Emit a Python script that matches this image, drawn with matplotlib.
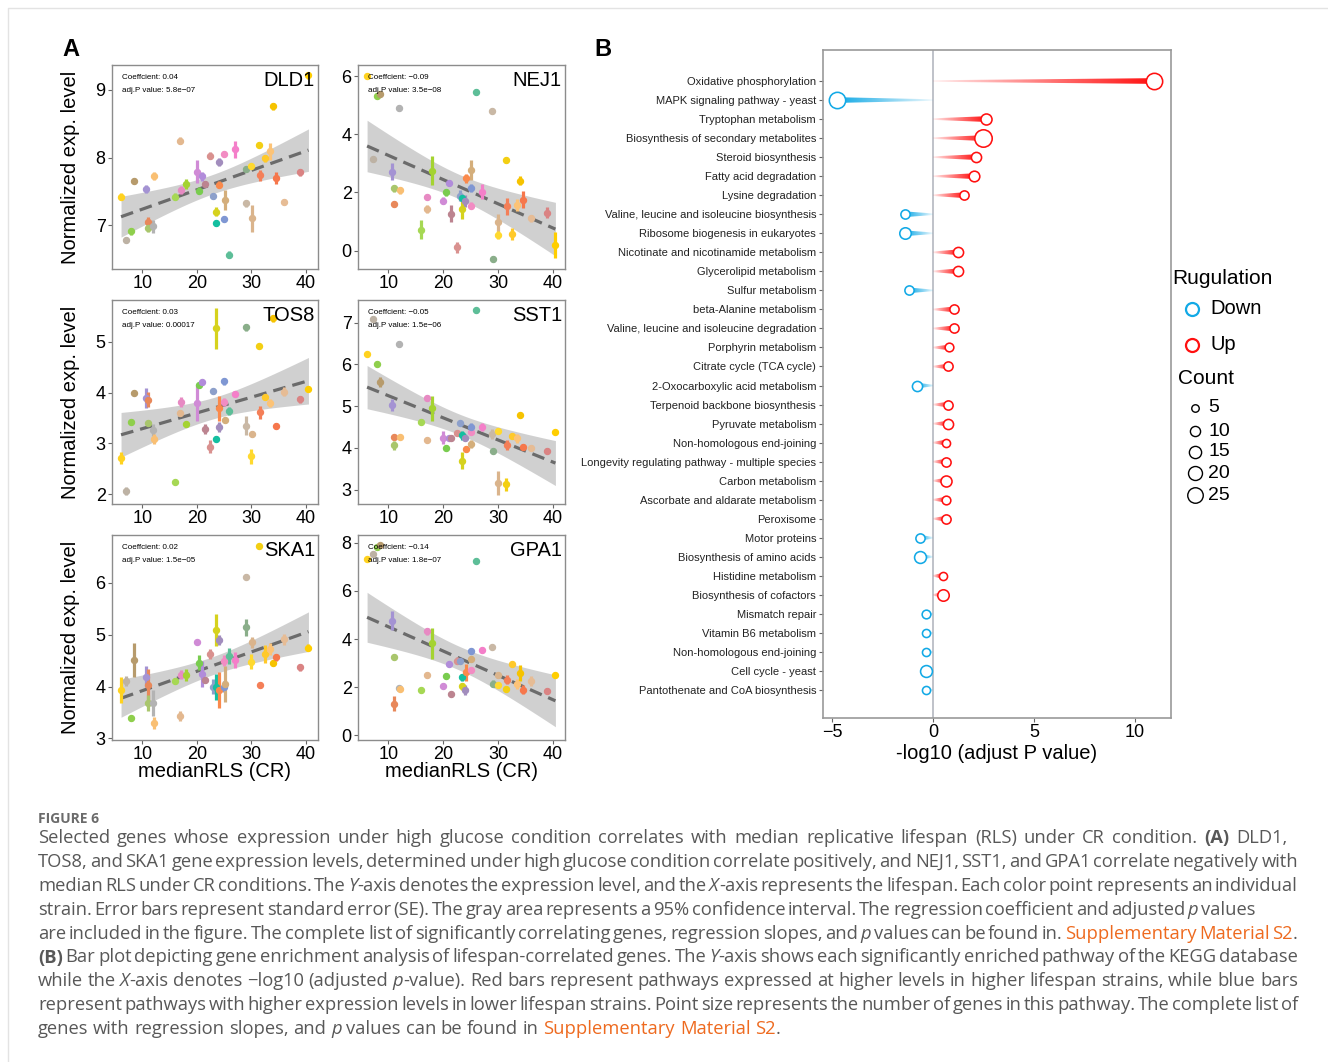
import numpy as np
import matplotlib
matplotlib.use('Agg')
import matplotlib.pyplot as plt
from matplotlib.patches import Polygon
from matplotlib.font_manager import FontProperties
from matplotlib import font_manager as fm

# ---------------- DATA ----------------
strain_x = [6.1, 7.1, 8.0, 8.5, 10.6, 11.0, 11.1, 12.0, 12.1, 16.0, 17.0, 17.1, 18.0, 20.0,
            20.5, 21.0, 21.5, 22.5, 23.0, 23.5, 23.5, 24.0, 24.1, 25.0, 25.0, 25.1, 26.0, 27.0,
            29.0, 29.1, 30.0, 30.1, 31.5, 31.6, 32.5, 33.5, 34.0, 34.5, 36.0, 39.0, 40.5]
strain_colors = ["#FFD21F", "#BDB2A4", "#8FCF4C", "#B79B6C", "#A493D3", "#E8885A", "#A9C66C",
                 "#B3B3B3", "#F9BF73", "#A6D854", "#E3B88F", "#E78AC3", "#A4D331", "#D08BD6",
                 "#79CC4F", "#B18CDA", "#BC8490", "#D9918F", "#8DA0CB", "#D6D21E", "#14BFA0",
                 "#A28DBD", "#FA8A4C", "#F28CC3", "#7F97D3", "#D4AE7B", "#5DBE98", "#F47FC9",
                 "#C9B8A5", "#8AAE8A", "#FFD92F", "#DAB48C", "#F3CF13", "#F47F58", "#FFC92A",
                 "#FCC377", "#F6C300", "#F6774C", "#E6BC95", "#DA8383", "#FFCE00"]

DLD1 = [7.42, 6.78, 6.91, 7.65, 7.53, 7.05, 6.95, 6.98, 7.73, 7.42, 8.25, 7.52, 7.61, 7.79, 7.51,
        7.72, 7.61, 8.03, 7.43, 7.20, 7.03, 7.94, 7.60, 8.05, 7.09, 7.37, 6.56, 8.12, 7.32, 7.83,
        7.87, 7.10, 8.19, 7.74, 7.99, 8.09, 8.76, 7.70, 7.34, 7.78, 9.22]
DLD1_err = [0.05, 0.05, 0.05, 0.04, 0.06, 0.07, 0.05, 0.10, 0.06, 0.05, 0.05, 0.06, 0.07, 0.17,
            0.05, 0.06, 0.04, 0.05, 0.05, 0.07, 0.05, 0.06, 0.05, 0.04, 0.05, 0.15, 0.05, 0.13,
            0.05, 0.04, 0.04, 0.20, 0.04, 0.08, 0.05, 0.12, 0.05, 0.09, 0.04, 0.05, 0.05]
NEJ1 = [6.0, 3.15, 5.33, 5.40, 2.72, 1.61, 2.15, 4.90, 2.07, 0.72, 1.43, 1.86, 2.74, 1.71, 2.01,
        2.34, 1.27, 0.11, 1.89, 1.43, 1.80, 1.70, 2.49, 1.54, 2.15, 2.78, 5.44, 2.03, 4.81, -0.29,
        0.55, 0.97, 3.12, 1.52, 0.57, 1.58, 2.41, 1.75, 1.12, 1.31, 0.20]
NEJ1_err = [0.1, 0.1, 0.1, 0.1, 0.3, 0.1, 0.12, 0.1, 0.12, 0.33, 0.15, 0.1, 0.5, 0.12, 0.12, 0.1,
            0.3, 0.2, 0.2, 0.35, 0.1, 0.2, 0.15, 0.12, 0.15, 0.35, 0.1, 0.25, 0.1, 0.1, 0.15, 0.3,
            0.1, 0.3, 0.22, 0.2, 0.15, 0.3, 0.12, 0.2, 0.45]
TOS8 = [2.71, 2.07, 3.43, 4.00, 3.89, 3.86, 3.41, 3.27, 3.08, 2.25, 3.59, 3.82, 3.38, 3.79, 4.15,
        4.20, 3.28, 2.94, 4.03, 5.26, 3.09, 3.33, 3.69, 3.82, 4.22, 3.46, 3.63, 3.97, 3.35, 5.28,
        2.75, 3.19, 4.92, 3.61, 3.92, 3.80, 5.46, 3.35, 4.02, 3.87, 4.08]
TOS8_err = [0.12, 0.08, 0.06, 0.05, 0.2, 0.15, 0.05, 0.12, 0.1, 0.04, 0.05, 0.1, 0.04, 0.35, 0.05,
            0.05, 0.1, 0.12, 0.05, 0.4, 0.05, 0.1, 0.25, 0.08, 0.07, 0.05, 0.08, 0.06, 0.18, 0.06,
            0.15, 0.05, 0.04, 0.12, 0.06, 0.08, 0.07, 0.06, 0.09, 0.07, 0.04]
SST1 = [6.24, 7.09, 6.01, 5.57, 5.03, 4.27, 4.06, 6.49, 4.27, 4.63, 4.19, 5.19, 4.95, 4.25, 4.01,
        4.25, 4.25, 4.35, 4.59, 3.70, 4.30, 4.25, 3.97, 4.39, 4.51, 4.10, 7.29, 4.50, 4.33, 3.92,
        4.41, 3.16, 3.13, 4.08, 4.29, 4.23, 4.78, 4.02, 4.01, 3.93, 4.38]
SST1_err = [0.05, 0.07, 0.06, 0.12, 0.15, 0.05, 0.1, 0.08, 0.05, 0.06, 0.05, 0.07, 0.3, 0.15, 0.07,
            0.07, 0.06, 0.06, 0.06, 0.2, 0.1, 0.08, 0.07, 0.06, 0.09, 0.1, 0.07, 0.09, 0.12, 0.05,
            0.06, 0.28, 0.15, 0.12, 0.05, 0.1, 0.06, 0.07, 0.05, 0.06, 0.05]
SKA1 = [3.93, 4.11, 3.39, 4.51, 4.19, 4.03, 3.68, 3.68, 3.30, 4.11, 3.43, 4.23, 4.22, 4.85, 4.46,
        4.25, 4.12, 4.63, 4.00, 5.09, 4.00, 4.90, 3.93, 4.50, 4.00, 4.05, 4.59, 4.51, 6.12, 5.14,
        4.48, 4.85, 6.70, 4.03, 4.63, 4.72, 4.45, 4.56, 4.91, 4.37, 4.75]
SKA1_err = [0.25, 0.1, 0.05, 0.33, 0.2, 0.3, 0.15, 0.25, 0.12, 0.06, 0.1, 0.08, 0.12, 0.05, 0.15,
            0.25, 0.06, 0.1, 0.15, 0.3, 0.25, 0.1, 0.35, 0.1, 0.1, 0.35, 0.15, 0.15, 0.05, 0.17,
            0.15, 0.1, 0.05, 0.06, 0.17, 0.12, 0.06, 0.06, 0.1, 0.07, 0.07]
GPA1 = [7.31, 7.53, 7.81, 7.90, 4.77, 1.32, 3.24, 1.95, 1.93, 1.88, 2.50, 4.32, 3.83, 2.07, 2.48,
        2.97, 1.70, 3.10, 3.10, 2.04, 2.41, 1.88, 2.62, 2.73, 3.49, 3.19, 7.26, 3.53, 3.67, 2.15,
        2.11, 2.52, 1.93, 2.32, 2.97, 2.14, 2.59, 1.90, 2.25, 1.86, 2.50]
GPA1_err = [0.06, 0.1, 0.1, 0.1, 0.4, 0.3, 0.12, 0.1, 0.1, 0.1, 0.12, 0.15, 0.65, 0.12, 0.12, 0.1,
            0.12, 0.15, 0.12, 0.15, 0.15, 0.2, 0.35, 0.1, 0.12, 0.12, 0.12, 0.12, 0.1, 0.15, 0.1,
            0.12, 0.1, 0.18, 0.1, 0.2, 0.35, 0.2, 0.2, 0.1, 0.1]

gene_names = ["DLD1", "NEJ1", "TOS8", "SST1", "SKA1", "GPA1"]
gene_values = [DLD1, NEJ1, TOS8, SST1, SKA1, GPA1]
gene_errors = [DLD1_err, NEJ1_err, TOS8_err, SST1_err, SKA1_err, GPA1_err]
gene_coef = ["0.04", "\u22120.09", "0.03", "\u22120.05", "0.02", "\u22120.14"]
gene_padj = ["5.8e\u221207", "3.5e\u221208", "0.00017", "1.5e\u221206", "1.5e\u221205", "1.8e\u221207"]
gene_ylim = [(6.35, 9.37), (-0.63, 6.38), (1.81, 5.82), (2.66, 7.54), (2.97, 6.92), (-0.19, 8.32)]
gene_yticks = [[7, 8, 9], [0, 2, 4, 6], [2, 3, 4, 5], [3, 4, 5, 6, 7], [3, 4, 5, 6], [0, 2, 4, 6, 8]]
x_ticks_A = [10, 20, 30, 40]

pathways = ["Oxidative phosphorylation", "MAPK signaling pathway - yeast", "Tryptophan metabolism",
            "Biosynthesis of secondary metabolites", "Steroid biosynthesis", "Fatty acid degradation",
            "Lysine degradation", "Valine, leucine and isoleucine biosynthesis",
            "Ribosome biogenesis in eukaryotes", "Nicotinate and nicotinamide metabolism",
            "Glycerolipid metabolism", "Sulfur metabolism", "beta-Alanine metabolism",
            "Valine, leucine and isoleucine degradation", "Porphyrin metabolism",
            "Citrate cycle (TCA cycle)", "2-Oxocarboxylic acid metabolism",
            "Terpenoid backbone biosynthesis", "Pyruvate metabolism", "Non-homologous end-joining",
            "Longevity regulating pathway - multiple species", "Carbon metabolism",
            "Ascorbate and aldarate metabolism", "Peroxisome", "Motor proteins",
            "Biosynthesis of amino acids", "Histidine metabolism", "Biosynthesis of cofactors",
            "Mismatch repair", "Vitamin B6 metabolism", "Non-homologous end-joining",
            "Cell cycle - yeast", "Pantothenate and CoA biosynthesis"]
neglog_p = [10.95, -4.75, 2.62, 2.50, 2.15, 2.02, 1.54, -1.38, -1.38, 1.25, 1.25, -1.21, 1.06, 1.02,
            0.81, 0.77, -0.81, 0.77, 0.73, 0.63, 0.63, 0.63, 0.63, 0.63, -0.63, -0.63, 0.48, 0.48,
            -0.33, -0.33, -0.33, -0.33, -0.33]
counts = [28, 28, 12, 32, 10, 11, 8, 8, 13, 10, 10, 8, 8, 8, 7, 8, 10, 8, 10, 6, 8, 12, 7, 8, 8,
          14, 6, 13, 7, 6, 6, 14, 6]
regulation = ["Up" if v > 0 else "Down" for v in neglog_p]
legend_counts = [5, 10, 15, 20, 25]
x_ticks_B = [-5, 0, 5, 10]

caption_lines = [
    "Selected genes whose expression under high glucose condition correlates with median replicative lifespan (RLS) under CR condition. #(A)# DLD1,",
    "TOS8, and SKA1 gene expression levels, determined under high glucose condition correlate positively, and NEJ1, SST1, and GPA1 correlate negatively with",
    "median RLS under CR conditions. The *Y*-axis denotes the expression level, and the *X*-axis represents the lifespan. Each color point represents an individual",
    "strain. Error bars represent standard error (SE). The gray area represents a 95% confidence interval. The regression coefficient and adjusted *p* values",
    "are included in the figure. The complete list of significantly correlating genes, regression slopes, and *p* values can be found in. ~Supplementary Material S2~.",
    "#(B)# Bar plot depicting gene enrichment analysis of lifespan-correlated genes. The *Y*-axis shows each significantly enriched pathway of the KEGG database",
    "while the *X*-axis denotes \u2212log10 (adjusted *p*-value). Red bars represent pathways expressed at higher levels in higher lifespan strains, while blue bars",
    "represent pathways with higher expression levels in lower lifespan strains. Point size represents the number of genes in this pathway. The complete list of",
    "genes with regression slopes, and *p* values can be found in ~Supplementary Material S2~.",
]
caption_right = [1287, 1298, 1298, 1255, 1298, 1298, 1298, 1298, None]

# ---------------- STYLE / LAYOUT ----------------
plt.rcParams['font.family'] = ['Liberation Sans', 'DejaVu Sans']
W, H = 1328, 1062
fig = plt.figure(figsize=(W / 100, H / 100), dpi=100)
RED = "#FF1010"
BLUE = "#12A9E6"


def ax_px(left, top, right, bottom):
    return fig.add_axes([left / W, 1 - bottom / H, (right - left) / W, (bottom - top) / H])


panel_px = [(112, 65, 318, 269), (358, 65, 565, 269), (112, 300, 318, 504),
            (358, 300, 565, 504), (112, 535, 318, 740), (358, 535, 565, 740)]

xs = np.array(strain_x)
for k, name in enumerate(gene_names):
    ax = ax_px(*panel_px[k])
    ys = np.array(gene_values[k])
    es = np.array(gene_errors[k])
    b, a = np.polyfit(xs, ys, 1)
    xx = np.linspace(xs.min(), xs.max(), 120)
    fit = a + b * xx
    resid = ys - (a + b * xs)
    n = len(xs)
    s = np.sqrt(np.sum(resid ** 2) / (n - 2))
    sxx = np.sum((xs - xs.mean()) ** 2)
    se = s * np.sqrt(1 / n + (xx - xs.mean()) ** 2 / sxx)
    t = 2.023
    ax.fill_between(xx, fit - t * se, fit + t * se, color='#BDBDBD', alpha=0.7, lw=0, zorder=1)
    ax.plot(xx, fit, ls=(0, (4, 2.2)), color='#6B6B6B', lw=2.3, zorder=2)
    for xi, yi, ei, ci in zip(xs, ys, es, strain_colors):
        ax.errorbar(xi, yi, yerr=ei, fmt='o', color=ci, mec=ci, ms=4.3, elinewidth=2.3,
                    capsize=0, zorder=3)
    ax.set_xlim(4.44, 42.25)
    ax.set_ylim(*gene_ylim[k])
    ax.set_xticks(x_ticks_A)
    ax.set_yticks(gene_yticks[k])
    ax.tick_params(labelsize=13, length=3, width=0.8, color='#666666', pad=1.5, labelcolor='black')
    for sp in ax.spines.values():
        sp.set_color('#8C8C8C')
        sp.set_linewidth(1.0)
    ax.text(0.048, 0.94, "Coeffcient: " + gene_coef[k], transform=ax.transAxes, fontsize=5.8,
            va='center', ha='left', zorder=5)
    ax.text(0.048, 0.877, "adj.P value: " + gene_padj[k], transform=ax.transAxes, fontsize=5.8,
            va='center', ha='left', zorder=5)
    ax.text(0.985, 0.925, name, transform=ax.transAxes, fontsize=14.5, va='center', ha='right',
            zorder=5)
    if k % 2 == 0:
        ax.set_ylabel("Normalized exp. level", fontsize=14.5)
        ax.yaxis.set_label_coords(-0.155, 0.5)
    if k >= 4:
        ax.set_xlabel("medianRLS (CR)", fontsize=14.5)
        ax.xaxis.set_label_coords(0.5, -0.105)


def diam_pt(c):
    return (2.9 * np.sqrt(c) + 1.0) * 0.72


# Panel B
axB = ax_px(823, 50, 1171, 718)
axB.axvline(0, color='#B4B8C0', lw=1.2, zorder=1)
h0, h1 = 0.04, 0.15
for i, (v, c, reg) in enumerate(zip(neglog_p, counts, regulation)):
    col = np.array(matplotlib.colors.to_rgb(RED if reg == "Up" else BLUE))
    grad = np.zeros((1, 256, 4))
    grad[..., :3] = col
    ramp = np.linspace(0.04, 1.0, 256) ** 0.9
    grad[0, :, 3] = ramp if v > 0 else ramp[::-1]
    poly = Polygon([(0, i - h0), (v, i - h1), (v, i + h1), (0, i + h0)], closed=True,
                   fc='none', ec='none')
    axB.add_patch(poly)
    im = axB.imshow(grad, extent=[min(0, v), max(0, v), i - h1, i + h1], aspect='auto',
                    interpolation='bilinear', zorder=2)
    im.set_clip_path(poly)
    axB.scatter([v], [i], s=diam_pt(c) ** 2, facecolor='white', edgecolor=col, lw=1.15, zorder=3)
axB.set_xlim(-5.45, 11.8)
axB.set_ylim(33.47, -1.63)
axB.set_aspect('auto')
axB.set_yticks(range(len(pathways)))
axB.set_yticklabels(pathways, fontsize=8, color='#222222')
axB.set_xticks(x_ticks_B)
axB.tick_params(axis='y', length=3, width=0.8, color='#666666', pad=2)
axB.tick_params(axis='x', labelsize=13, length=3, width=0.8, color='#666666', pad=1.5)
for sp in axB.spines.values():
    sp.set_color('#999999')
    sp.set_linewidth(1.2)
axB.set_xlabel("-log10 (adjust P value)", fontsize=14.5, labelpad=2)

# Overlay in pixel coordinates
ov = fig.add_axes([0, 0, 1, 1], facecolor='none')
ov.set_xlim(0, W)
ov.set_ylim(H, 0)
ov.axis('off')
ov.plot([8, 8, W], [H, 8, 8], color='#E3E3E3', lw=1.0)
ov.text(62, 50, "A", fontsize=17, fontweight='bold', ha='left', va='center')
ov.text(594, 50, "B", fontsize=17, fontweight='bold', ha='left', va='center')

# Legend
ov.text(1172, 278, "Rugulation", fontsize=15, ha='left', va='center')
ov.scatter([1192], [309], s=(13 * 0.72) ** 2, facecolor='white', edgecolor=BLUE, lw=1.6)
ov.text(1210, 308, "Down", fontsize=14.5, ha='left', va='center')
ov.scatter([1192], [345], s=(13 * 0.72) ** 2, facecolor='white', edgecolor=RED, lw=1.6)
ov.text(1210, 345, "Up", fontsize=14.5, ha='left', va='center')
ov.text(1178, 379, "Count", fontsize=15, ha='left', va='center')
for c, yy in zip(legend_counts, [408, 431, 452, 473, 495]):
    ov.scatter([1195], [yy], s=diam_pt(c) ** 2, facecolor='white', edgecolor='black', lw=1.0)
    ov.text(1208, yy, str(c), fontsize=14, ha='left', va='center')


# ---------------- Caption (real text, justified word by word) ----------------
def has_font(name):
    try:
        fm.findfont(fm.FontProperties(family=name), fallback_to_default=False)
        return True
    except Exception:
        return False


CAPFONT = [f for f in ["Open Sans", "Noto Sans", "Liberation Sans"] if has_font(f)][:1] + ['DejaVu Sans']
CAPCOL = "#585858"
LINKCOL = "#EE6A1F"


def parse(line):
    words, cur, buf = [], [], []
    st = {'i': False, 'b': False, 'l': False}

    def flush():
        if buf:
            cur.append(("".join(buf), (st['i'], st['b'], st['l'])))
            buf.clear()

    for ch in line:
        if ch in "*#~":
            flush()
            key = {'*': 'i', '#': 'b', '~': 'l'}[ch]
            st[key] = not st[key]
        elif ch == " ":
            flush()
            if cur:
                words.append(list(cur))
                cur.clear()
        else:
            buf.append(ch)
    flush()
    if cur:
        words.append(list(cur))
    return words


def props(style, size):
    it, bd, lk = style
    return dict(fontsize=size, family=CAPFONT, fontstyle='italic' if it else 'normal',
                fontweight='bold' if bd else 'normal', color=LINKCOL if lk else CAPCOL)


renderer = fig.canvas.get_renderer()


def measure(txt, style, size):
    t = ov.text(0, 0, txt, **props(style, size))
    w = t.get_window_extent(renderer).width
    t.remove()
    return w


def word_width(word, size):
    return sum(measure(r, st, size) for r, st in word)


NORM = (False, False, False)
parsed = [parse(l) for l in caption_lines]
base = 13.0
space0 = measure("x x", NORM, base) - measure("xx", NORM, base)
# size so that the unjustified last line ends near x = 778 px
nat_last = sum(word_width(w, base) for w in parsed[-1]) + space0 * (len(parsed[-1]) - 1)
size = base * (778 - 38) / nat_last
# but every justified line must still fit with at least 0.55 of a normal space
for words, right in zip(parsed, caption_right):
    if right is None:
        continue
    nat = sum(word_width(w, base) for w in words) + 0.55 * space0 * (len(words) - 1)
    size = min(size, base * (right - 38) / nat)
space = space0 * size / base

ov.text(38, 823, "FIGURE 6", fontsize=10, family=CAPFONT, fontweight='bold', color='#6B6B6B',
        ha='left', va='baseline')
for li, (words, right) in enumerate(zip(parsed, caption_right)):
    ybase = 843 + li * 23.9
    widths = [word_width(w, size) for w in words]
    if right is None:
        gap = space
    else:
        gap = ((right - 38) - sum(widths)) / (len(words) - 1)
    x = 38.0
    for w, ww in zip(words, widths):
        xr = x
        for r, st in w:
            ov.text(xr, ybase, r, ha='left', va='baseline', **props(st, size))
            xr += measure(r, st, size)
        x += ww + gap

fig.savefig("out.png", dpi=100)
